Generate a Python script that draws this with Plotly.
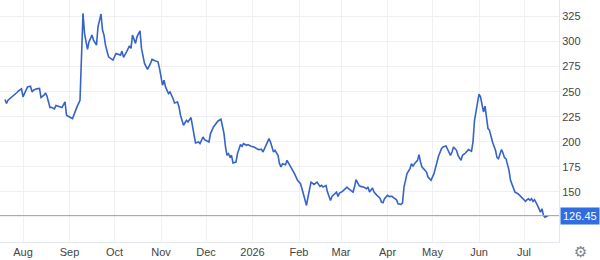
import plotly.graph_objects as go

dates = [
"2025-07-20","2025-07-21","2025-07-22","2025-07-24","2025-07-26","2025-07-28","2025-07-29","2025-07-31",
"2025-08-01","2025-08-03","2025-08-04","2025-08-06","2025-08-07","2025-08-08","2025-08-10","2025-08-12","2025-08-13","2025-08-15","2025-08-16","2025-08-17","2025-08-19","2025-08-20","2025-08-22","2025-08-23","2025-08-25","2025-08-27","2025-08-29","2025-08-30",
"2025-09-01","2025-09-03","2025-09-06","2025-09-08","2025-09-10","2025-09-11","2025-09-13","2025-09-14","2025-09-16","2025-09-17","2025-09-19","2025-09-20","2025-09-22","2025-09-23","2025-09-24","2025-09-25","2025-09-27","2025-09-29","2025-09-30",
"2025-10-02","2025-10-04","2025-10-05","2025-10-06","2025-10-07","2025-10-09","2025-10-11","2025-10-12","2025-10-13","2025-10-15","2025-10-16","2025-10-18","2025-10-19","2025-10-21","2025-10-22","2025-10-23","2025-10-25","2025-10-26","2025-10-28","2025-10-30","2025-10-31",
"2025-11-02","2025-11-03","2025-11-04","2025-11-06","2025-11-07","2025-11-09","2025-11-10","2025-11-12","2025-11-13","2025-11-14","2025-11-16","2025-11-18","2025-11-19","2025-11-21","2025-11-22","2025-11-23","2025-11-24","2025-11-26","2025-11-27","2025-11-29","2025-11-30",
"2025-12-03","2025-12-04","2025-12-06","2025-12-08","2025-12-09","2025-12-11","2025-12-13","2025-12-14","2025-12-15","2025-12-16","2025-12-17","2025-12-18","2025-12-19","2025-12-21","2025-12-22","2025-12-24","2025-12-25","2025-12-26","2025-12-28","2025-12-29","2025-12-31",
"2026-01-02","2026-01-03","2026-01-05","2026-01-07","2026-01-08","2026-01-10","2026-01-12","2026-01-13","2026-01-14","2026-01-15","2026-01-16","2026-01-18","2026-01-19","2026-01-20","2026-01-21","2026-01-23","2026-01-24","2026-01-26","2026-01-27","2026-01-29","2026-01-31",
"2026-02-02","2026-02-03","2026-02-04","2026-02-06","2026-02-07","2026-02-08","2026-02-09","2026-02-11","2026-02-12","2026-02-13","2026-02-15","2026-02-16","2026-02-17","2026-02-19","2026-02-20","2026-02-22","2026-02-23","2026-02-25","2026-02-26","2026-02-27","2026-02-28",
"2026-03-02","2026-03-03","2026-03-05","2026-03-06","2026-03-08","2026-03-09","2026-03-10","2026-03-11","2026-03-13","2026-03-14","2026-03-16","2026-03-18","2026-03-19","2026-03-20","2026-03-22","2026-03-23","2026-03-25","2026-03-27","2026-03-28","2026-03-29","2026-03-30",
"2026-04-01","2026-04-02","2026-04-04","2026-04-05","2026-04-07","2026-04-08","2026-04-10","2026-04-11","2026-04-12","2026-04-13","2026-04-14","2026-04-16","2026-04-17","2026-04-18","2026-04-19","2026-04-21","2026-04-22","2026-04-23","2026-04-24","2026-04-25","2026-04-27","2026-04-28","2026-04-29","2026-04-30",
"2026-05-02","2026-05-03","2026-05-04","2026-05-05","2026-05-07","2026-05-08","2026-05-10","2026-05-11","2026-05-13","2026-05-14","2026-05-15","2026-05-17","2026-05-18","2026-05-20","2026-05-21","2026-05-23","2026-05-24","2026-05-25","2026-05-27","2026-05-28","2026-05-29","2026-05-31",
"2026-06-01","2026-06-02","2026-06-03","2026-06-04","2026-06-05","2026-06-06","2026-06-07","2026-06-08","2026-06-09","2026-06-10","2026-06-12","2026-06-13","2026-06-14","2026-06-15","2026-06-16","2026-06-17","2026-06-18","2026-06-19","2026-06-21","2026-06-22","2026-06-24","2026-06-25","2026-06-27","2026-06-28","2026-06-30",
"2026-07-02","2026-07-03","2026-07-04","2026-07-05","2026-07-06","2026-07-07","2026-07-08","2026-07-10","2026-07-11","2026-07-12","2026-07-13","2026-07-14","2026-07-15","2026-07-17"]

prices = [
242.2, 238.2, 241.5, 243.8, 246.5, 249.2, 250.8, 252.8,
244.8, 250.8, 254.8, 255.5, 249.8, 251.5, 252.8, 253.2, 244.2, 246.5, 248.8, 245.5, 234.2, 234.5, 232.8, 236.2, 234.8, 234.2, 239.8, 226.5,
224.8, 223.2, 234.8, 241.5, 328.2, 308.2, 292.2, 299.8, 306.5, 301.5, 296.5, 314.8, 327.5, 311.5, 306.5, 296.5, 284.8, 282.2, 281.5,
288.2, 287.5, 286.5, 290.5, 284.2, 289.8, 295.8, 293.2, 306.5, 298.2, 304.8, 310.8, 293.2, 278.2, 275.5, 272.2, 278.2, 282.2, 280.8, 279.8, 273.2,
256.5, 261.5, 254.8, 248.2, 249.8, 243.2, 238.8, 239.8, 234.8, 226.5, 216.5, 221.5, 219.8, 224.2, 214.8, 205.5, 198.8, 199.8, 198.2, 204.8, 202.2,
199.8, 208.2, 214.8, 218.2, 220.8, 222.5, 208.2, 194.8, 186.5, 188.2, 184.8, 186.5, 178.8, 179.8, 188.2, 197.2, 195.5, 198.2, 196.5, 197.2, 195.5,
194.8, 193.8, 192.2, 192.5, 189.8, 196.5, 203.2, 199.8, 194.8, 189.8, 191.5, 186.5, 178.2, 174.8, 178.2, 177.2, 181.5, 176.5, 173.2, 168.2, 161.5,
158.2, 153.2, 146.5, 136.5, 144.8, 154.8, 159.8, 157.5, 158.8, 159.8, 155.5, 156.5, 154.8, 156.5, 149.8, 141.5, 145.5, 148.2, 149.8, 145.5, 148.8,
150.5, 152.2, 154.8, 153.2, 151.5, 149.8, 154.8, 162.2, 156.5, 155.5, 154.8, 153.2, 154.8, 149.8, 153.8, 149.8, 146.5, 143.8, 139.8, 139.2, 143.2,
146.5, 145.5, 145.5, 144.2, 142.2, 138.2, 137.5, 138.8, 154.8, 161.5, 168.2, 173.2, 178.2, 175.5, 178.2, 181.5, 187.2, 179.8, 174.8, 173.2, 169.8, 164.8, 163.2, 161.5,
168.2, 174.2, 179.8, 185.5, 193.2, 194.8, 195.8, 193.2, 186.5, 189.8, 194.8, 191.5, 186.5, 181.5, 186.5, 188.8, 190.8, 192.2, 190.5, 199.8, 221.5, 238.2,
247.5, 244.8, 236.5, 229.8, 235.5, 224.8, 213.2, 211.5, 204.8, 199.8, 191.5, 184.2, 183.2, 188.2, 192.2, 188.8, 184.2, 183.2, 171.5, 161.5, 154.8, 149.8, 148.2, 146.5, 144.2,
140.5, 142.2, 143.2, 141.5, 143.2, 140.5, 142.2, 136.5, 132.2, 129.8, 133.2, 126.5, 124.8, 126.45]

last_price = 126.45
last_label = "126.45"

x_tickvals = ["2025-08-01", "2025-09-01", "2025-10-01", "2025-11-01", "2025-12-01", "2026-01-01",
              "2026-02-01", "2026-03-01", "2026-04-01", "2026-05-01", "2026-06-01", "2026-07-01"]
x_ticktext = ["Aug", "Sep", "Oct", "Nov", "Dec", "2026", "Feb", "Mar", "Apr", "May", "Jun", "Jul"]
y_tickvals = [100, 125, 150, 175, 200, 225, 250, 275, 300, 325]
y_ticktext = ["", "", "150", "175", "200", "225", "250", "275", "300", "325"]

grid = "#eef0f3"
font = "Liberation Sans, Arial, sans-serif"

fig = go.Figure()
fig.add_trace(go.Scatter(x=dates, y=prices, mode="lines",
                         line=dict(color="#3563c9", width=1.6), hoverinfo="skip"))

fig.add_hline(y=last_price, line=dict(color="#8daeea", width=1))

fig.add_annotation(xref="paper", x=1.0, xanchor="left", xshift=1, y=last_price, yref="y",
                   text=last_label, showarrow=False, bgcolor="#2f6de0",
                   font=dict(color="white", size=11, family=font), borderpad=2)

fig.add_annotation(xref="paper", yref="paper", x=1.0, y=0, xanchor="center", yanchor="middle",
                   xshift=21, yshift=-10,
                   text="⚙", showarrow=False, font=dict(color="#7d838c", size=15, family="DejaVu Sans"))

fig.update_layout(
    width=600, height=260,
    margin=dict(l=0, r=41, t=0, b=18),
    paper_bgcolor="white", plot_bgcolor="white",
    showlegend=False,
    font=dict(family=font, size=11, color="#444"),
    xaxis=dict(range=["2025-07-16 16:00", "2026-07-24 08:00"], tickvals=x_tickvals, ticktext=x_ticktext,
               showgrid=True, gridcolor=grid, gridwidth=1, zeroline=False, showline=True,
               linecolor="#e4e7ec", ticks="", tickfont=dict(size=11, color="#444")),
    yaxis=dict(range=[100, 341.5], side="right", tickvals=y_tickvals, ticktext=y_ticktext,
               showgrid=True, gridcolor=grid, gridwidth=1, zeroline=False, showline=True,
               linecolor="#e4e7ec", ticks="", tickfont=dict(size=11, color="#444")),
)

fig.write_html("out.html")
